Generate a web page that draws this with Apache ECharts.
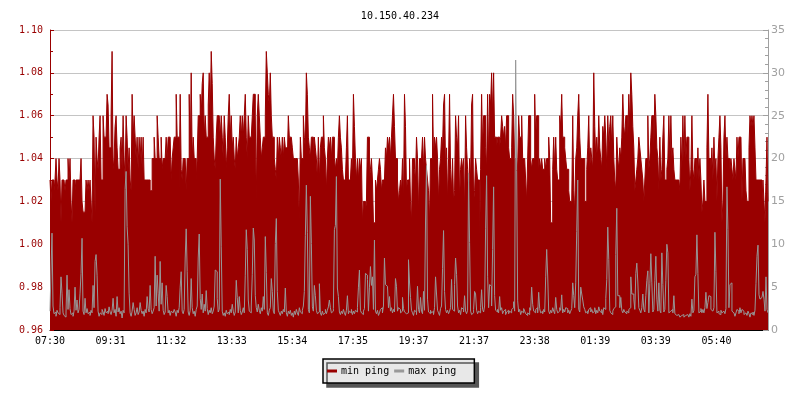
<!DOCTYPE html>
<html>
<head>
<meta charset="utf-8">
<script src="https://cdn.jsdelivr.net/npm/echarts@6/dist/echarts.min.js"></script>
<style>html,body{margin:0;padding:0;background:#fff}#c{width:800px;height:400px}</style>
</head>
<body>
<div id="c"></div>
<script>
// Time tick labels (every 121 minutes from 07:30)
const timeLabels = ['07:30','09:31','11:32','13:33','15:34','17:35','19:37','21:37','23:38','01:39','03:39','05:40'];
const minutesPerSample = 2;
const tickMinutes = 121;
const spanMinutes = 1434;

// min ping (ms), left axis
const minPing = [
1.03,1.02,1.03,1.03,1.025,1.03,1.04,1.03,1.025,1.04,
1.03,1.01,1.03,1.03,1.03,1.025,1.03,1.03,1.04,1.03,
1.04,1.02,1.01,1.03,1.03,1.025,1.03,1.03,1.03,1.03,
1.03,1.04,1.02,1.015,1.015,1.015,1.03,1.025,1.03,1.025,
1.03,1.02,1.01,1.06,1.05,1.015,1.05,1.04,1.035,1.05,
1.06,1.03,1.03,1.06,1.05,1.05,1.05,1.07,1.065,1.045,
1.045,1.06,1.09,1.035,1.04,1.055,1.06,1.045,1.035,1.035,
1.045,1.05,1.035,1.06,1.04,1.03,1.06,1.05,1.035,1.045,
1.03,1.025,1.07,1.05,1.06,1.05,1.04,1.05,1.035,1.05,
1.04,1.05,1.035,1.05,1.03,1.03,1.03,1.03,1.03,1.03,
1.025,1.025,1.04,1.04,1.05,1.04,1.04,1.06,1.05,1.04,
1.04,1.05,1.035,1.04,1.04,1.04,1.05,1.04,
1.05,1.05,1.05,1.03,1.04,1.045,1.05,1.05,1.07,1.05,
1.05,1.025,1.07,1.035,1.03,1.04,1.04,1.04,1.025,1.04,
1.04,1.07,1.04,1.08,1.04,1.05,1.04,1.04,1.03,1.04,
1.06,1.06,1.07,1.06,1.075,1.08,1.05,1.06,1.05,1.05,
1.065,1.08,1.06,1.09,1.075,1.05,1.04,1.035,1.05,1.06,
1.06,1.06,1.05,1.06,1.05,1.04,1.06,1.05,1.035,1.045,
1.06,1.07,1.05,1.06,1.045,1.05,1.04,1.035,1.05,1.04,
1.045,1.05,1.06,1.05,1.06,1.05,1.06,1.07,1.05,1.04,
1.06,1.05,1.05,1.05,1.06,1.07,1.07,1.06,1.02,1.06,
1.07,1.06,1.05,1.04,1.045,1.05,1.05,1.06,1.09,1.08,
1.07,1.065,1.08,1.06,1.05,1.05,1.04,1.035,1.03,1.05,
1.04,1.05,1.045,1.04,1.05,1.04,1.05,
1.045,1.045,1.04,1.06,1.05,1.05,1.05,1.045,1.04,1.04,
1.04,1.04,1.04,1.03,1.01,1.05,1.04,1.04,1.06,1.05,
1.045,1.08,1.07,1.05,1.045,1.04,1.05,1.05,1.04,1.05,
1.045,1.04,1.03,1.05,1.03,1.045,1.05,1.05,1.06,1.045,
1.04,1.025,1.04,1.05,1.045,1.05,1.04,1.05,1.05,1.04,
1.035,1.04,1.035,1.05,1.06,1.05,1.045,1.035,1.03,1.03,
1.03,1.045,1.06,1.03,1.03,1.03,1.04,1.03,1.07,1.055,
1.04,1.03,1.04,1.03,1.04,1.035,1.04,1.01,1.02,1.02,
1.015,1.02,1.05,1.05,1.03,1.035,1.04,1.03,1.01,1.01,
1.03,1.025,1.03,1.035,1.04,1.035,1.025,1.03,1.03,1.03,
1.045,1.04,1.05,1.045,1.05,1.04,1.05,1.06,1.07,1.055,
1.04,1.04,1.03,1.02,1.025,1.03,1.025,1.04,1.02,1.07,
1.055,1.025,1.03,1.03,1.04,1.02,1.01,1.04,1.04,1.035,
1.03,1.05,1.04,1.015,1.04,1.04,1.04,1.05,1.035,1.05,
1.04,1.035,1.03,1.025,1.01,1.04,1.04,1.07,1.04,1.05,
1.045,1.05,1.04,1.02,1.035,1.04,1.05,1.045,1.065,1.07,
1.035,1.045,1.02,1.04,1.07,1.035,1.025,1.04,1.02,1.025,
1.06,1.05,1.045,1.06,1.02,1.035,1.04,1.035,1.04,1.015,
1.06,1.045,1.035,1.02,1.04,1.03,1.065,1.07,1.02,1.025,
1.04,1.035,1.03,1.03,1.00,1.035,1.07,1.045,1.06,1.06,
1.045,1.035,1.07,1.04,1.07,1.065,1.08,1.06,1.08,1.05,
1.05,1.045,1.05,1.05,1.045,1.05,1.06,1.055,1.05,1.055,
1.045,1.06,1.06,1.045,1.04,1.04,1.045,1.07,1.06,1.04,
1.04,1.04,1.035,1.06,1.05,1.05,1.06,1.04,1.04,1.04,
1.03,1.02,1.04,1.06,1.06,1.04,1.035,1.04,1.04,1.07,
1.05,1.06,1.06,1.035,1.04,1.035,1.04,1.035,1.035,1.04,
1.035,1.04,1.04,1.05,1.04,1.01,1.01,1.035,1.05,1.035,
1.05,1.035,1.03,1.03,1.06,1.055,1.07,1.05,1.05,1.045,
1.04,1.035,1.035,1.025,1.02,1.02,1.02,1.06,1.025,1.015,
1.04,1.045,1.06,1.07,1.05,1.04,1.04,1.04,1.04,1.02,
1.02,1.035,1.045,1.06,1.035,1.045,1.04,1.035,1.08,1.055,
1.04,1.05,1.04,1.06,1.045,1.04,1.035,1.055,1.05,1.06,
1.05,1.035,1.06,1.045,1.055,1.06,1.045,1.06,1.04,1.03,
1.025,1.05,1.04,1.035,1.045,1.04,1.05,1.07,1.055,1.05,
1.06,1.06,1.05,1.07,1.055,1.08,1.07,1.055,1.045,1.025,
1.03,1.035,1.04,1.05,1.045,1.04,1.035,1.03,1.02,1.03,
1.04,1.04,1.06,1.035,1.04,1.05,1.06,1.06,1.045,1.07,
1.06,1.045,1.04,1.025,1.05,1.03,1.035,1.05,1.06,1.03,
1.03,1.035,1.04,1.06,1.04,1.06,1.04,1.045,1.035,1.03,
1.03,1.03,1.03,1.03,1.025,1.05,1.035,1.06,1.04,1.06,
1.04,1.05,1.05,1.04,1.025,1.035,1.06,1.035,1.03,1.04,
1.04,1.03,1.045,1.03,1.04,1.03,1.015,1.02,1.03,1.02,
1.02,1.045,1.07,1.04,1.04,1.035,1.045,1.03,1.05,1.035,
1.04,1.02,1.04,1.05,1.06,1.045,1.01,1.02,1.05,1.06,
1.04,1.05,1.04,1.04,1.035,1.04,1.035,1.03,1.04,1.035,
1.03,1.05,1.04,1.05,1.05,1.05,1.02,1.04,1.04,1.04,
1.025,1.02,1.02,1.045,1.06,1.055,1.06,1.055,1.06,1.045,
1.03,1.03,1.03,1.03,1.03,1.03,1.02,1.03,1.02,1.01,
1.03,1.05,1.02
];

// max ping (ms), right axis
const maxPing = [
2.2,7.0,11.3,2.8,1.9,2.1,1.6,2.3,2.0,1.8,2.6,6.2,4.3,2.0,1.7,1.5,2.1,6.4,2.4,4.7,
2.5,1.8,2.0,1.6,2.2,5.0,2.3,3.5,2.0,2.4,4.3,6.6,10.7,2.2,1.8,3.7,2.0,2.5,1.9,2.1,
1.7,2.3,2.0,5.2,2.6,8.0,8.8,6.4,2.2,1.6,2.0,1.8,2.4,2.1,1.7,2.5,2.0,2.2,1.9,2.7,
2.1,1.8,2.3,3.7,2.0,2.4,1.6,3.9,2.1,2.6,1.9,2.2,1.4,2.3,2.0,16.4,18.5,12.1,10.0,4.3,
2.0,1.6,2.2,3.2,2.4,1.7,2.0,2.6,1.8,2.1,3.2,2.3,1.9,2.2,1.6,2.4,2.0,3.9,2.5,2.1,
5.2,2.4,1.9,2.2,2.6,8.6,2.8,6.4,4.3,2.2,8.0,3.0,5.5,2.3,1.8,2.1,5.2,3.9,2.0,2.3,
1.7,2.2,2.0,1.8,2.4,2.1,1.6,2.3,2.0,2.6,5.0,6.8,2.2,1.9,2.4,8.4,11.8,6.8,2.1,1.7,
2.3,6.0,2.6,1.9,2.2,1.6,2.4,2.8,8.4,11.2,3.7,2.4,4.2,2.0,3.0,2.2,4.6,2.5,1.8,2.3,
2.0,2.6,1.9,2.2,2.8,7.0,6.8,3.7,2.1,2.4,17.6,9.7,2.2,1.7,2.0,1.6,2.3,1.9,2.1,1.8,
2.4,2.0,3.0,2.2,1.7,2.1,5.8,3.8,2.0,3.9,2.3,1.8,2.1,2.6,2.0,6.4,11.7,9.4,3.5,2.2,
2.0,2.8,6.5,11.9,10.5,4.0,2.6,2.1,3.0,2.3,1.9,2.6,2.2,3.9,2.4,10.9,6.7,2.0,1.7,2.3,
2.6,6.0,4.5,2.2,1.9,10.1,13.0,4.5,2.3,2.0,1.7,2.2,1.9,2.4,2.1,4.9,2.0,1.6,2.2,1.9,
2.3,1.7,2.0,1.5,2.2,1.8,2.4,2.0,1.7,2.6,2.1,1.9,2.3,2.8,4.5,11.0,16.9,11.4,2.4,2.0,
15.6,10.1,2.7,2.2,5.2,4.0,2.3,1.9,2.1,5.4,2.0,1.7,2.2,1.8,2.0,2.4,1.9,2.3,2.7,3.5,
2.6,2.0,2.2,2.5,11.7,12.2,17.9,4.9,3.9,2.1,1.8,2.2,1.9,2.4,2.0,1.7,2.3,4.0,1.9,2.2,
2.0,2.4,1.8,2.2,1.9,2.3,2.1,2.6,5.0,7.0,2.3,2.0,1.8,2.2,2.5,6.6,6.4,5.9,2.2,5.0,
7.4,5.2,6.2,2.4,10.5,2.2,1.9,2.3,1.7,2.0,2.4,2.6,2.0,2.8,8.4,5.3,5.1,5.0,2.6,3.9,
2.2,2.6,2.0,2.4,2.1,6.0,5.1,2.2,2.6,2.4,2.0,2.2,3.8,2.5,2.1,1.9,1.8,2.0,8.2,5.6,
3.8,2.3,2.0,1.7,2.3,2.1,1.8,5.1,2.4,2.0,3.8,2.2,1.9,4.5,2.3,12.6,19.2,3.6,2.1,1.9,
2.3,2.0,2.2,1.8,2.6,6.2,4.2,2.3,2.0,1.7,2.5,2.8,7.2,11.6,4.5,2.4,2.0,2.3,1.9,2.2,
2.6,5.9,2.4,2.2,5.3,8.4,6.5,2.8,2.0,2.3,1.8,2.6,2.4,2.1,4.0,2.2,1.9,2.3,18.3,10.2,
2.2,1.8,2.0,2.4,4.5,4.2,2.3,1.9,2.2,2.0,2.6,4.7,2.4,2.1,2.8,11.8,18.0,6.2,2.6,5.3,
5.1,2.8,9.4,16.7,4.0,2.3,2.1,2.4,2.0,3.9,2.3,2.6,1.9,2.2,2.4,1.8,2.1,2.3,1.9,2.2,
2.0,2.4,2.6,3.3,2.2,31.5,18.6,3.4,2.1,2.4,1.8,2.2,2.0,2.5,2.2,1.9,1.7,2.0,1.8,2.6,
2.3,5.0,3.0,2.2,2.0,2.4,2.6,2.0,4.4,2.5,2.0,2.2,1.9,2.4,2.1,6.2,9.4,6.3,2.2,1.9,
2.3,2.0,2.6,2.2,1.9,3.8,2.4,2.0,2.2,2.6,2.3,4.1,2.0,2.4,2.1,2.6,2.5,2.0,2.3,1.9,
2.2,2.5,5.5,4.0,2.6,5.5,11.5,17.5,2.4,2.1,5.0,4.2,3.5,2.7,2.4,2.0,2.2,1.9,2.4,2.6,
2.1,2.4,2.0,2.2,2.6,1.9,2.3,2.0,2.7,2.2,2.0,2.4,1.8,2.6,2.4,3.7,5.9,12.0,8.2,2.3,
2.0,1.8,2.2,2.5,2.7,8.8,14.2,4.0,4.0,2.6,3.8,2.3,2.0,2.4,2.1,1.9,2.2,2.0,2.4,2.6,
6.2,4.2,4.2,3.6,2.4,6.6,7.8,5.6,2.6,2.3,2.0,2.6,4.2,2.4,2.1,4.0,5.8,6.9,2.0,5.4,
8.9,5.5,2.1,2.4,5.8,8.6,3.6,2.2,5.5,2.3,2.0,9.0,5.3,2.1,2.4,5.8,10.0,9.0,2.0,2.2,
2.1,2.4,2.0,4.0,1.9,1.7,1.5,1.8,1.6,1.5,1.7,1.6,1.8,1.5,1.7,1.6,1.8,1.6,1.5,1.9,
1.6,3.6,2.0,2.3,6.2,6.5,11.1,6.6,2.0,2.2,2.5,2.0,2.4,2.0,2.6,4.4,2.5,3.2,4.0,3.9,
2.4,2.2,2.0,2.6,11.4,6.8,2.0,2.2,1.9,1.8,2.3,2.0,2.2,2.4,1.9,2.5,16.7,11.7,2.6,5.3,
5.5,2.2,2.0,1.8,1.6,2.0,2.4,2.2,1.9,2.6,2.0,2.4,2.2,1.8,2.0,2.1,1.7,2.2,1.9,1.5,
2.0,1.8,2.1,1.7,2.3,5.4,8.6,9.9,4.1,3.6,3.8,4.0,4.5,3.6,2.2,6.2,2.4,2.0
];

const redData = minPing.map((v, i) => [i * minutesPerSample, v]);
const greyData = maxPing.map((v, i) => [i * minutesPerSample, v]);

const mono = 'DejaVu Sans Mono';
const chart = echarts.init(document.getElementById('c'), null, {renderer: 'canvas'});
chart.setOption({
  animation: false,
  backgroundColor: '#ffffff',
  textStyle: {fontFamily: mono},
  title: {
    text: '10.150.40.234',
    left: 'center',
    top: 6,
    textStyle: {fontFamily: mono, fontSize: 10, fontWeight: 'normal', color: '#000'}
  },
  legend: {
    data: ['min ping', 'max ping'],
    left: 323,
    top: 359,
    orient: 'horizontal',
    icon: 'rect',
    itemWidth: 10,
    itemHeight: 3,
    itemGap: 5,
    padding: [7, 18, 7, 4],
    backgroundColor: '#e8e8e8',
    borderColor: '#000',
    borderWidth: 1.5,
    borderRadius: 0,
    shadowColor: '#555',
    shadowBlur: 0,
    shadowOffsetX: 4,
    shadowOffsetY: 4,
    textStyle: {fontFamily: mono, fontSize: 10, color: '#000', padding: [0, 0, 0, -1]}
  },
  grid: {left: 50, right: 32, top: 30, bottom: 70, containLabel: false},
  xAxis: {
    type: 'value',
    min: 0,
    max: spanMinutes,
    interval: tickMinutes,
    axisLine: {lineStyle: {color: '#000', width: 1}},
    axisTick: {inside: true, length: 4, lineStyle: {color: '#000'}},
    splitLine: {show: false},
    axisLabel: {
      fontFamily: mono, fontSize: 10, color: '#000', margin: 6,
      showMaxLabel: false,
      formatter: function (v) {
        const k = v / tickMinutes;
        return Math.abs(k - Math.round(k)) < 1e-6 ? (timeLabels[Math.round(k)] || '') : '';
      }
    }
  },
  yAxis: [
    {
      type: 'value',
      min: 0.96,
      max: 1.10,
      interval: 0.02,
      position: 'left',
      axisLine: {show: true, lineStyle: {color: '#990000', width: 1}},
      axisTick: {show: true, inside: true, length: 4, lineStyle: {color: '#990000'}},
      minorTick: {show: true, splitNumber: 2, length: 3, lineStyle: {color: '#990000'}},
      splitLine: {show: true, lineStyle: {color: '#c4c4c4', width: 1}},
      axisLabel: {fontFamily: mono, fontSize: 10, color: '#990000', margin: 7,
        formatter: v => v.toFixed(2)}
    },
    {
      type: 'value',
      min: 0,
      max: 35,
      interval: 5,
      position: 'right',
      axisLine: {show: true, lineStyle: {color: '#a0a0a0', width: 1}},
      axisTick: {show: true, inside: true, length: 5, lineStyle: {color: '#a0a0a0'}},
      minorTick: {show: true, splitNumber: 5, length: 3, lineStyle: {color: '#a0a0a0'}},
      splitLine: {show: false},
      axisLabel: {fontFamily: 'DejaVu Sans', fontSize: 11, color: '#a0a0a0', margin: 3}
    }
  ],
  series: [
    {
      name: 'min ping',
      type: 'line',
      yAxisIndex: 0,
      data: redData,
      step: 'end',
      showSymbol: false,
      symbol: 'none',
      color: '#990000',
      lineStyle: {color: '#990000', width: 1},
      areaStyle: {color: '#990000', opacity: 1, origin: 'start'},
      z: 2
    },
    {
      name: 'max ping',
      type: 'line',
      yAxisIndex: 1,
      data: greyData,
      step: 'end',
      showSymbol: false,
      symbol: 'none',
      color: '#999999',
      lineStyle: {color: '#979797', width: 1},
      z: 3
    }
  ]
});
</script>
</body>
</html>
